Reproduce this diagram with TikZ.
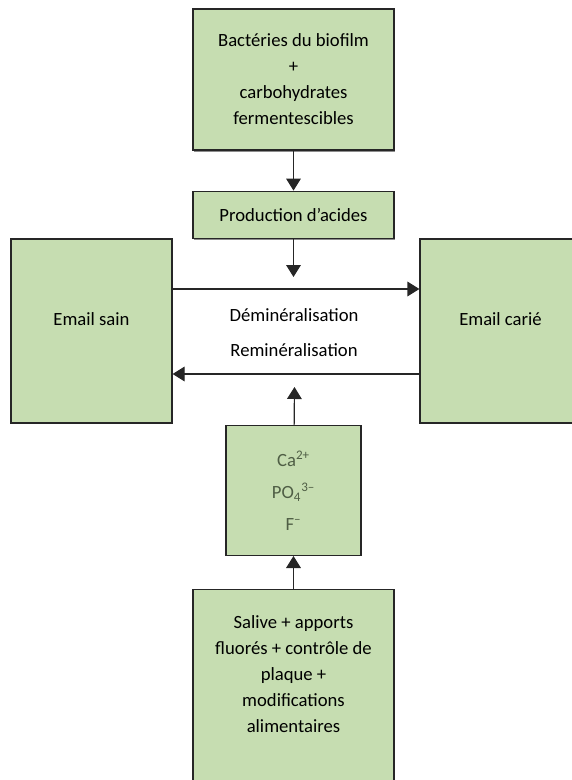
\documentclass[tikz,border=0pt]{standalone}
\usepackage{fontspec}
\setmainfont{Carlito}
\usetikzlibrary{positioning}
\usetikzlibrary{arrows.meta}
\usetikzlibrary{shadows}

\definecolor{boxgreen}{HTML}{C6DDB1}
\definecolor{iontext}{HTML}{4F5E45}

\begin{document}
\begin{tikzpicture}[
    x=0.75pt, y=-0.75pt,
    box/.style = {draw=black!85, fill=boxgreen, line width=0.9pt, align=center, inner sep=0pt, font=\fontsize{14}{19.5}\selectfont},
    shadowed/.style = {drop shadow={shadow xshift=1pt, shadow yshift=-1.5pt, fill=black!45, opacity=1}},
    arrow/.style = {draw=black!85, line width=0.9pt, -{Triangle[width=11pt,length=9pt]}},
    plain/.style = {font=\fontsize{14}{19}\selectfont}
  ]
  \useasboundingbox (0,0) rectangle (571,780);

  \node[box, shadowed, minimum width=150.75pt, minimum height=105.75pt, text depth=-22pt] (bacteria) at (293.5,79.5) {Bactéries du biofilm\\+\\carbohydrates\\fermentescibles};
  \node[box, shadowed, minimum width=150.75pt, minimum height=35.25pt, below=30pt of bacteria] (acids) {Production d’acides};

  \node[box, minimum width=120.75pt, minimum height=138pt, text depth=18pt] (healthy) at (91.5,331) {Email sain};
  \node[box, minimum width=120.75pt, minimum height=138pt, text depth=18pt] (carious) at (500.5,331) {Email carié};

  \node[box, minimum width=101.25pt, minimum height=97.5pt, below=139.5pt of acids, text=iontext, font=\fontsize{14}{24}\selectfont] (ions) {Ca\textsuperscript{2+}\\PO\textsubscript{4}\textsuperscript{3–}\\F\textsuperscript{–}};
  \node[box, shadowed, minimum width=150.75pt, minimum height=160.5pt, below=24.75pt of ions] (saliva) {};
  \node[plain, align=center, inner sep=0pt, font=\fontsize{14}{19.5}\selectfont, below=19.5pt of saliva.north] (saliva text) {Salive + apports\\fluorés + contrôle de\\plaque +\\modifications\\alimentaires};

  \node[plain] (demin) at (294,315) {Déminéralisation};
  \node[plain] (remin) at (294,350) {Reminéralisation};

  \coordinate (acids end) at (293.5,277);
  \coordinate (ions end) at (294.5,387);

  \draw[arrow] (bacteria) -- (acids);
  \draw[arrow] (acids) -- (acids end);
  \draw[arrow] ([yshift=31.5pt]healthy.east) -- ([yshift=31.5pt]carious.west);
  \draw[arrow] ([yshift=-32.25pt]carious.west) -- ([yshift=-32.25pt]healthy.east);
  \draw[arrow] (ions) -- (ions end);
  \draw[arrow] (saliva) -- (ions);
\end{tikzpicture}
\end{document}
